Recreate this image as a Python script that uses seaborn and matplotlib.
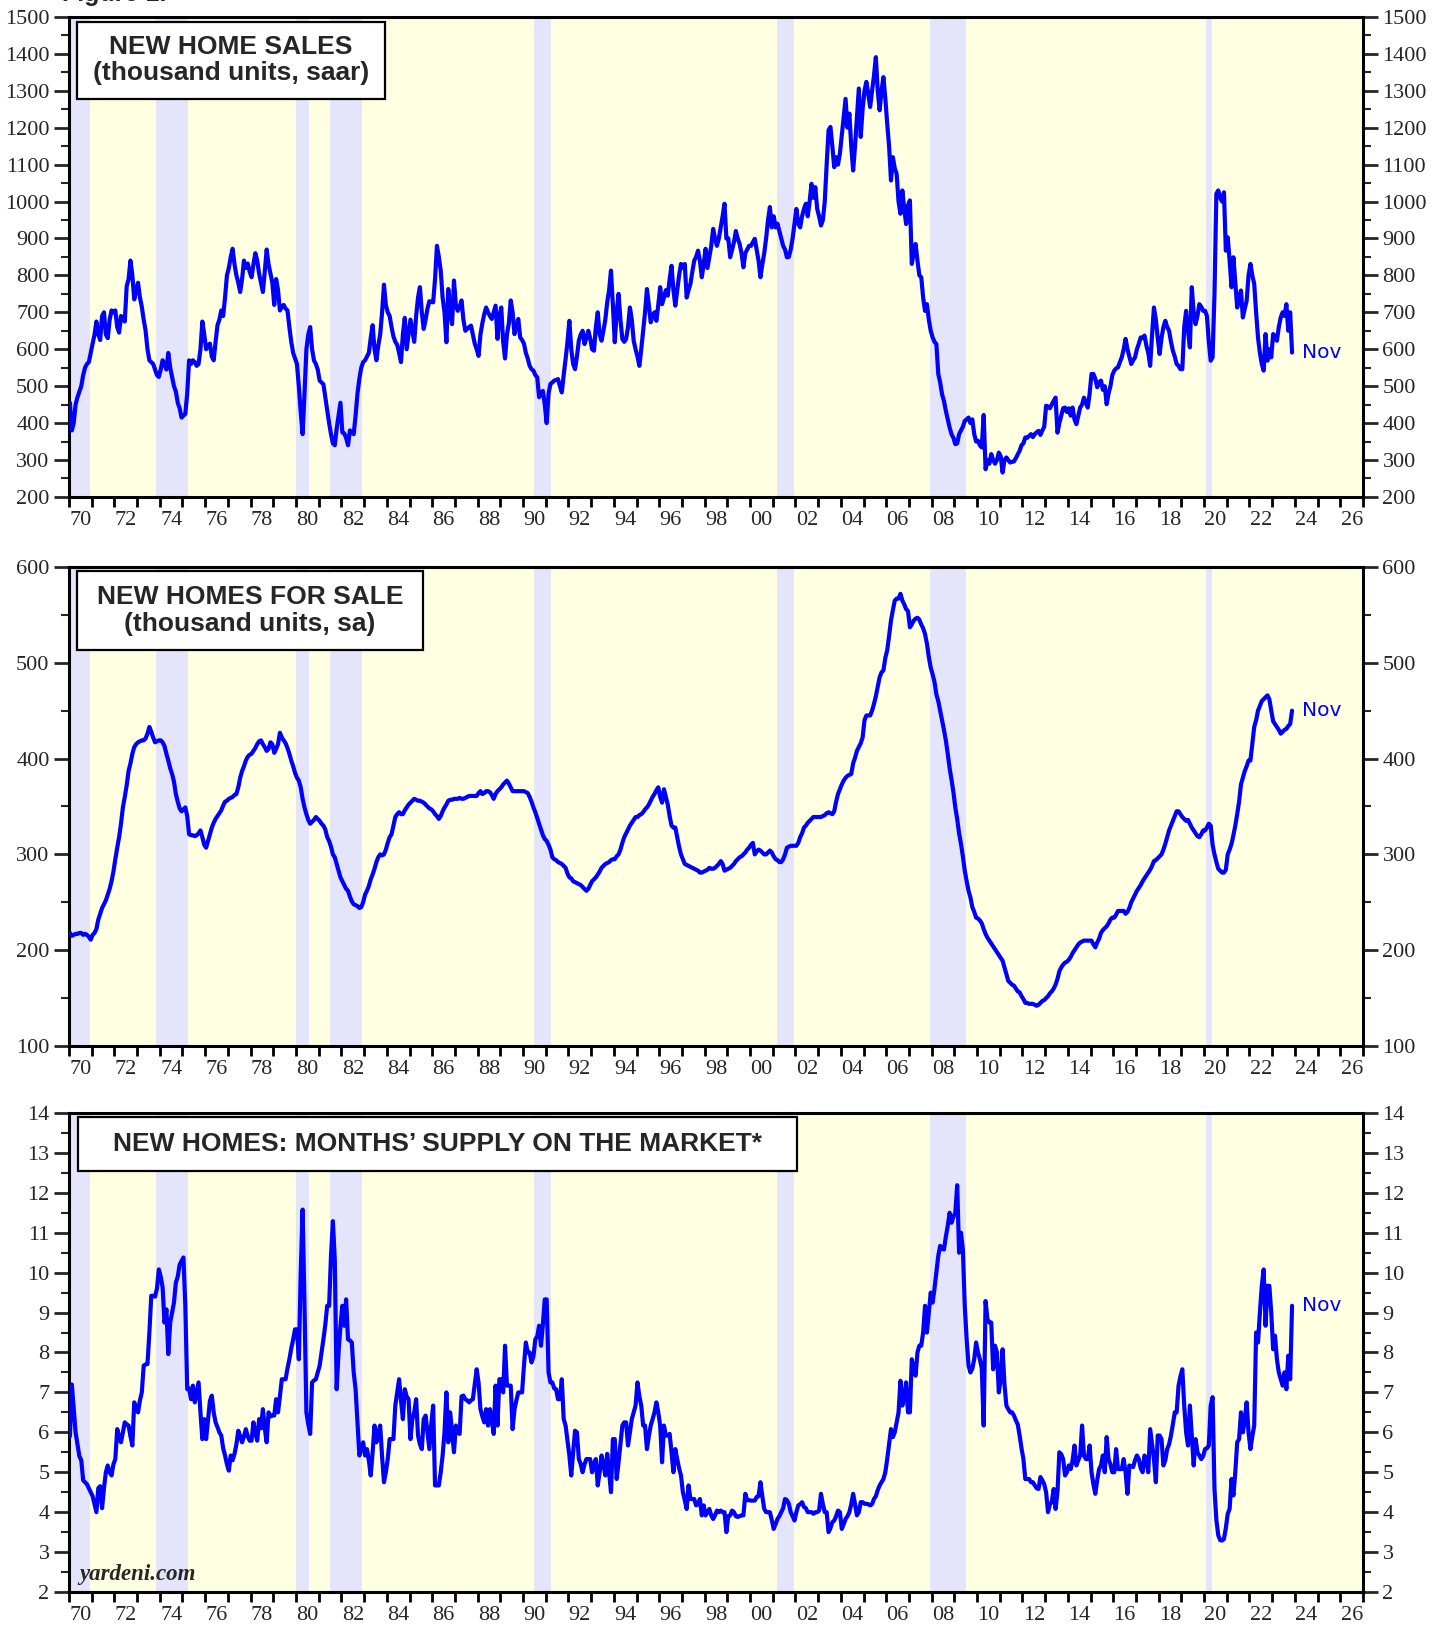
import numpy as np
import seaborn as sns
import matplotlib.pyplot as plt
from matplotlib.patches import Rectangle
from matplotlib.ticker import MultipleLocator, FixedLocator, FixedFormatter, NullFormatter, FormatStrFormatter

sns.set_style('ticks')
plt.rcParams['font.family'] = ['Liberation Serif', 'DejaVu Serif']

# New home sales, thousand units saar (one row per year, Jan..Dec, 1970 - Nov 2023)
home_sales = [
    [455, 380, 400, 450, 470, 485, 500, 530, 550, 560, 565, 590],  # 1970
    [615, 640, 675, 640, 625, 690, 700, 640, 630, 680, 705, 700],
    [705, 660, 645, 690, 680, 675, 770, 790, 840, 800, 735, 760],
    [780, 740, 715, 680, 650, 600, 570, 565, 560, 545, 530, 525],
    [545, 570, 560, 545, 590, 550, 525, 500, 485, 455, 440, 415],
    [420, 425, 480, 570, 560, 570, 565, 555, 560, 600, 675, 640],
    [600, 610, 615, 580, 570, 620, 665, 680, 705, 690, 740, 800],
    [820, 850, 872, 830, 800, 780, 755, 790, 840, 820, 832, 810],
    [795, 830, 860, 840, 805, 780, 755, 810, 870, 830, 805, 780],
    [720, 790, 760, 705, 715, 720, 710, 705, 660, 620, 590, 575],
    [560, 500, 430, 370, 480, 600, 640, 660, 600, 570, 560, 545],  # 1980
    [515, 510, 505, 470, 435, 400, 370, 345, 340, 385, 420, 455],
    [375, 372, 360, 340, 380, 375, 370, 420, 480, 520, 550, 565],
    [570, 580, 590, 630, 665, 600, 570, 610, 640, 700, 775, 720],
    [700, 690, 660, 635, 620, 612, 590, 565, 640, 685, 600, 640],
    [680, 650, 620, 690, 740, 768, 700, 655, 680, 710, 730, 728],
    [727, 790, 880, 850, 813, 740, 700, 619, 763, 700, 668, 786],
    [720, 704, 715, 732, 680, 650, 655, 660, 664, 640, 615, 600],
    [582, 640, 670, 695, 713, 700, 690, 682, 700, 718, 628, 690],
    [713, 620, 575, 640, 670, 732, 700, 641, 660, 682, 632, 625],
    [615, 590, 575, 555, 546, 542, 530, 524, 470, 480, 487, 450],  # 1990
    [400, 480, 506, 510, 515, 517, 519, 500, 483, 530, 573, 620],
    [677, 600, 560, 546, 580, 623, 640, 650, 614, 630, 650, 630],
    [600, 596, 660, 700, 640, 623, 650, 680, 727, 760, 813, 720],
    [619, 700, 750, 680, 628, 620, 628, 660, 713, 680, 623, 600],
    [580, 555, 600, 650, 700, 763, 720, 673, 690, 700, 677, 720],
    [768, 722, 740, 760, 745, 790, 826, 760, 718, 760, 800, 831],
    [820, 831, 740, 760, 777, 810, 840, 850, 867, 840, 795, 830],
    [872, 820, 850, 880, 926, 900, 880, 900, 930, 960, 994, 900],
    [900, 849, 870, 890, 920, 900, 885, 860, 822, 860, 870, 880],
    [880, 890, 899, 870, 840, 795, 830, 860, 900, 950, 985, 930],  # 2000
    [960, 930, 940, 920, 900, 880, 870, 849, 850, 870, 900, 940],
    [980, 940, 930, 960, 980, 994, 960, 1000, 1048, 1010, 1039, 980],
    [960, 935, 950, 1000, 1100, 1193, 1202, 1150, 1093, 1120, 1100, 1130],
    [1180, 1230, 1278, 1200, 1238, 1150, 1084, 1150, 1230, 1306, 1175, 1250],
    [1300, 1324, 1290, 1256, 1300, 1340, 1391, 1300, 1247, 1300, 1337, 1280],
    [1211, 1150, 1057, 1120, 1090, 1075, 1000, 967, 1030, 980, 939, 990],
    [1003, 831, 860, 885, 840, 800, 795, 740, 704, 722, 680, 650],
    [632, 620, 614, 533, 510, 478, 460, 433, 410, 388, 370, 360],
    [343, 345, 370, 380, 390, 406, 410, 415, 400, 410, 370, 350],
    [352, 340, 334, 422, 275, 300, 290, 316, 300, 290, 300, 320],  # 2010
    [310, 266, 300, 307, 300, 293, 295, 296, 305, 315, 325, 340],
    [345, 361, 360, 365, 370, 362, 370, 375, 379, 368, 380, 390],
    [447, 445, 440, 450, 460, 469, 374, 400, 420, 440, 442, 430],
    [440, 420, 442, 410, 397, 420, 442, 450, 469, 455, 442, 480],
    [533, 533, 520, 497, 510, 515, 490, 500, 451, 480, 500, 530],
    [542, 548, 551, 565, 578, 600, 628, 600, 580, 560, 570, 578],
    [600, 615, 632, 630, 637, 610, 590, 555, 640, 713, 680, 630],
    [587, 630, 660, 677, 660, 650, 620, 596, 580, 560, 555, 546],
    [546, 660, 704, 650, 605, 768, 700, 668, 690, 722, 715, 704],
    [704, 690, 620, 569, 578, 750, 1021, 1030, 1010, 1000, 1025, 867],  # 2020
    [903, 840, 768, 849, 780, 713, 740, 759, 686, 710, 731, 800],
    [831, 800, 777, 700, 632, 590, 560, 542, 641, 569, 600, 578],
    [641, 635, 623, 660, 686, 700, 690, 722, 650, 700, 591],
]

# New homes for sale, thousand units sa
homes_for_sale = [
    [218, 215, 216, 217, 217, 218, 218, 216, 217, 216, 214, 211],  # 1970
    [216, 218, 222, 232, 238, 244, 248, 252, 258, 264, 272, 282],
    [295, 307, 318, 332, 349, 360, 372, 387, 395, 405, 412, 415],
    [417, 418, 419, 419, 421, 426, 433, 428, 422, 417, 418, 419],
    [419, 417, 413, 405, 398, 390, 384, 376, 363, 355, 348, 345],
    [347, 349, 340, 321, 320, 320, 319, 320, 322, 325, 318, 310],
    [307, 314, 321, 328, 333, 337, 340, 343, 346, 351, 355, 356],
    [358, 359, 360, 362, 363, 370, 380, 387, 392, 398, 402, 404],
    [405, 408, 411, 415, 418, 419, 415, 412, 408, 410, 417, 415],
    [406, 410, 415, 427, 422, 419, 416, 411, 405, 398, 392, 385],
    [380, 377, 370, 358, 349, 342, 336, 332, 334, 336, 339, 337],  # 1980
    [335, 332, 330, 326, 318, 314, 308, 300, 297, 290, 283, 276],
    [272, 268, 264, 262, 256, 251, 248, 247, 246, 244, 245, 250],
    [258, 262, 267, 274, 279, 285, 292, 297, 300, 299, 300, 305],
    [312, 318, 321, 330, 339, 342, 344, 342, 342, 346, 349, 352],
    [354, 356, 358, 357, 356, 356, 355, 354, 352, 350, 348, 347],
    [345, 342, 340, 337, 340, 345, 349, 352, 356, 357, 357, 358],
    [358, 358, 359, 358, 358, 359, 360, 361, 361, 361, 361, 361],
    [364, 366, 363, 364, 366, 366, 365, 362, 358, 363, 366, 368],
    [370, 373, 375, 377, 374, 370, 366, 366, 366, 366, 366, 366],
    [366, 365, 364, 360, 355, 349, 344, 338, 332, 326, 320, 316],  # 1990
    [314, 310, 305, 297, 295, 294, 292, 291, 290, 288, 286, 280],
    [276, 275, 272, 271, 270, 269, 268, 266, 264, 262, 264, 268],
    [272, 274, 276, 279, 282, 286, 288, 290, 291, 292, 294, 295],
    [295, 298, 300, 305, 312, 318, 322, 326, 330, 333, 336, 339],
    [339, 341, 342, 344, 347, 349, 352, 356, 360, 363, 367, 370],
    [360, 354, 368, 360, 352, 340, 330, 328, 328, 318, 308, 300],
    [295, 290, 289, 288, 287, 286, 285, 284, 283, 281, 281, 282],
    [283, 284, 286, 285, 285, 286, 288, 290, 293, 290, 283, 284],
    [285, 286, 288, 290, 293, 295, 297, 298, 300, 302, 305, 307],
    [310, 312, 300, 303, 305, 304, 302, 300, 300, 302, 304, 302],  # 2000
    [298, 295, 294, 292, 292, 295, 300, 307, 308, 309, 309, 309],
    [309, 312, 318, 322, 328, 330, 333, 335, 337, 339, 339, 339],
    [339, 339, 340, 341, 343, 344, 343, 342, 345, 355, 363, 368],
    [373, 377, 380, 382, 383, 384, 395, 401, 408, 412, 416, 422],
    [440, 445, 445, 445, 450, 457, 465, 475, 485, 490, 492, 505],
    [513, 528, 544, 555, 565, 567, 567, 572, 565, 561, 556, 554],
    [537, 540, 544, 546, 547, 545, 540, 536, 530, 520, 506, 495],
    [488, 480, 467, 460, 450, 440, 430, 419, 405, 390, 378, 365],
    [349, 337, 322, 311, 298, 283, 272, 262, 255, 245, 240, 234],
    [233, 231, 228, 222, 217, 213, 210, 207, 204, 201, 198, 195],  # 2010
    [192, 189, 182, 175, 168, 166, 164, 163, 160, 157, 156, 152],
    [149, 145, 145, 144, 144, 144, 143, 142, 143, 145, 147, 148],
    [150, 152, 155, 157, 160, 164, 170, 178, 182, 185, 187, 188],
    [190, 193, 197, 200, 203, 206, 208, 209, 210, 210, 210, 210],
    [210, 206, 203, 208, 212, 218, 221, 223, 225, 228, 232, 234],
    [234, 237, 241, 241, 241, 241, 238, 240, 244, 250, 254, 258],
    [262, 265, 268, 272, 275, 278, 281, 284, 288, 293, 294, 296],
    [298, 300, 305, 311, 318, 325, 330, 335, 340, 345, 345, 342],
    [339, 337, 335, 336, 332, 328, 325, 322, 319, 318, 321, 325],
    [325, 328, 332, 330, 310, 300, 292, 285, 283, 281, 281, 284],  # 2020
    [300, 305, 311, 320, 330, 342, 355, 373, 380, 387, 392, 398],
    [398, 415, 433, 440, 450, 455, 460, 462, 464, 466, 462, 450],
    [439, 436, 433, 430, 426, 428, 430, 431, 434, 436, 450],
]

# New homes: months' supply on the market
months_supply = [
    [5.9, 7.2, 6.6, 6.0, 5.7, 5.4, 5.3, 4.8, 4.75, 4.7, 4.6, 4.5],  # 1970
    [4.4, 4.2, 4.0, 4.6, 4.65, 4.1, 4.6, 5.0, 5.17, 5.0, 4.92, 5.2],
    [5.33, 6.08, 5.9, 5.75, 6.0, 6.25, 6.2, 6.17, 5.9, 5.67, 6.75, 6.6],
    [6.5, 6.8, 7.0, 7.67, 7.7, 7.71, 8.5, 9.42, 9.42, 9.4, 9.6, 10.08],
    [9.9, 9.63, 8.75, 9.08, 7.96, 8.75, 9.0, 9.25, 9.75, 9.9, 10.2, 10.29],
    [10.38, 9.17, 7.08, 7.1, 6.83, 7.17, 6.75, 7.0, 7.25, 6.5, 5.83, 6.33],
    [5.83, 6.3, 6.79, 6.92, 6.5, 6.25, 6.13, 6.0, 5.92, 5.6, 5.42, 5.2],
    [5.04, 5.42, 5.3, 5.46, 5.7, 6.04, 5.9, 5.75, 5.9, 6.08, 5.9, 5.79],
    [5.79, 6.25, 6.0, 5.79, 6.33, 6.1, 6.58, 6.1, 5.75, 6.5, 6.4, 6.42],
    [6.42, 6.83, 6.5, 6.9, 7.33, 7.33, 7.33, 7.6, 7.83, 8.1, 8.33, 8.58],
    [8.58, 7.83, 10.0, 11.58, 9.17, 6.5, 6.2, 5.96, 7.25, 7.3, 7.33, 7.5],  # 1980
    [7.67, 8.0, 8.33, 8.7, 9.17, 9.17, 10.42, 11.29, 10.33, 7.08, 8.0, 8.67],
    [9.17, 8.67, 9.33, 8.33, 8.3, 8.25, 7.5, 7.08, 6.25, 5.42, 5.6, 5.75],
    [5.42, 5.58, 5.3, 4.92, 5.5, 6.17, 5.75, 6.0, 6.17, 5.4, 4.75, 5.0],
    [5.33, 5.83, 5.83, 5.83, 6.67, 7.0, 7.33, 6.8, 6.33, 7.08, 6.9, 6.83],
    [5.83, 6.33, 6.5, 6.83, 5.92, 5.7, 5.58, 6.33, 6.42, 6.0, 5.58, 6.2],
    [6.67, 4.67, 4.67, 4.67, 5.0, 5.42, 6.0, 7.0, 5.75, 6.5, 6.0, 5.5],
    [6.17, 6.0, 5.96, 6.9, 6.92, 6.83, 6.8, 6.75, 6.8, 6.83, 7.2, 7.58],
    [7.25, 6.58, 6.4, 6.25, 6.58, 6.17, 6.58, 6.3, 5.96, 7.17, 6.17, 7.33],
    [7.33, 7.0, 8.17, 7.17, 7.17, 7.17, 6.08, 6.58, 6.8, 7.0, 7.0, 7.0],
    [7.67, 8.25, 8.0, 8.0, 7.75, 7.9, 8.33, 8.4, 8.67, 8.17, 8.7, 9.33],  # 1990
    [9.33, 7.5, 7.25, 7.25, 7.1, 7.08, 6.83, 6.83, 7.33, 6.33, 6.17, 5.8],
    [5.42, 4.92, 5.5, 6.04, 6.0, 5.33, 5.2, 5.0, 5.2, 5.33, 5.33, 5.33],
    [5.0, 5.2, 5.33, 4.67, 5.0, 5.42, 5.2, 4.92, 5.46, 5.0, 4.5, 5.83],
    [5.83, 4.83, 5.25, 5.7, 6.17, 6.25, 6.25, 5.67, 6.0, 6.33, 6.5, 6.67],
    [7.25, 6.9, 6.67, 6.17, 6.17, 5.58, 5.9, 6.17, 6.33, 6.5, 6.75, 6.5],
    [6.17, 5.25, 6.17, 5.92, 5.92, 5.96, 5.5, 5.0, 5.58, 5.33, 5.1, 4.92],
    [4.5, 4.3, 4.08, 4.67, 4.33, 4.33, 4.33, 4.17, 4.2, 4.33, 3.92, 4.17],
    [3.92, 4.0, 4.08, 3.92, 3.83, 3.92, 4.04, 4.0, 4.04, 4.0, 4.0, 3.5],
    [3.9, 3.92, 4.04, 4.0, 3.9, 3.88, 3.9, 3.92, 3.92, 4.46, 4.3, 4.3],
    [4.29, 4.29, 4.29, 4.38, 4.4, 4.75, 4.4, 4.08, 4.0, 4.0, 4.0, 3.8],  # 2000
    [3.58, 3.7, 3.83, 3.9, 4.0, 4.1, 4.33, 4.3, 4.21, 4.0, 3.9, 3.79],
    [4.0, 4.17, 4.2, 4.25, 4.13, 4.1, 4.0, 4.0, 4.0, 3.96, 4.0, 4.0],
    [4.04, 4.46, 4.2, 4.0, 4.0, 3.5, 3.6, 3.75, 3.79, 3.9, 4.04, 4.0],
    [3.58, 3.7, 3.83, 3.9, 4.0, 4.2, 4.46, 4.2, 3.92, 4.0, 4.25, 4.25],
    [4.21, 4.21, 4.2, 4.17, 4.2, 4.33, 4.4, 4.55, 4.67, 4.75, 4.83, 5.0],
    [5.33, 5.7, 6.08, 5.88, 6.0, 6.25, 6.5, 7.29, 6.67, 6.9, 7.25, 6.5],
    [6.5, 7.83, 7.6, 7.42, 8.0, 8.17, 8.17, 8.5, 9.17, 8.5, 9.0, 9.5],
    [9.25, 9.6, 10.0, 10.42, 10.67, 10.6, 10.58, 10.9, 11.17, 11.5, 11.25, 11.4],
    [11.5, 12.19, 10.5, 11.0, 10.58, 9.17, 8.33, 7.67, 7.5, 7.6, 7.83, 8.25],
    [8.0, 7.83, 7.6, 6.17, 9.29, 8.83, 8.75, 8.75, 7.58, 8.17, 8.0, 7.0],  # 2010
    [7.33, 8.08, 7.2, 6.67, 6.58, 6.5, 6.5, 6.42, 6.3, 6.2, 5.92, 5.6],
    [5.33, 4.83, 4.83, 4.83, 4.75, 4.75, 4.67, 4.6, 4.58, 4.88, 4.8, 4.7],
    [4.5, 4.0, 4.2, 4.25, 4.58, 4.08, 4.5, 5.5, 5.45, 5.33, 4.92, 5.0],
    [5.17, 5.08, 5.3, 5.67, 5.17, 5.3, 5.42, 6.17, 5.42, 5.33, 5.33, 5.67],
    [5.0, 4.7, 4.46, 4.8, 5.08, 5.17, 5.42, 5.0, 5.88, 5.33, 5.2, 5.0],
    [5.0, 5.58, 5.08, 5.08, 5.08, 5.33, 5.0, 4.46, 5.17, 5.15, 5.13, 5.3],
    [5.42, 5.33, 5.1, 5.0, 5.42, 5.3, 5.0, 6.08, 5.7, 5.33, 4.75, 5.92],
    [5.92, 5.83, 5.17, 5.3, 5.58, 5.7, 5.92, 6.2, 6.5, 6.5, 7.17, 7.4],
    [7.58, 6.67, 6.0, 5.67, 6.67, 5.9, 5.17, 5.83, 5.5, 5.42, 5.33, 5.4],
    [5.58, 5.6, 5.67, 6.67, 6.88, 4.58, 3.8, 3.42, 3.3, 3.29, 3.33, 3.6],  # 2020
    [3.96, 4.08, 4.83, 4.42, 5.0, 5.75, 5.83, 6.5, 6.0, 6.3, 6.75, 6.0],
    [5.58, 5.9, 6.17, 8.5, 8.25, 9.0, 9.67, 10.08, 8.67, 9.67, 9.67, 9.0],
    [8.08, 8.42, 7.83, 7.5, 7.33, 7.17, 7.5, 7.08, 7.92, 7.33, 9.17],
]

# NBER recessions (start, end) as decimal years
recessions = [(1969 + 11/12, 1970 + 11/12), (1973 + 10/12, 1975 + 3/12), (1980.0, 1980 + 7/12),
              (1981.5, 1982 + 11/12), (1990.5, 1991 + 3/12), (2001 + 2/12, 2001 + 11/12),
              (2007 + 11/12, 2009.5), (2020 + 1/12, 2020 + 4/12)]

year_labels = ['70', '72', '74', '76', '78', '80', '82', '84', '86', '88', '90', '92', '94', '96',
               '98', '00', '02', '04', '06', '08', '10', '12', '14', '16', '18', '20', '22', '24', '26']
label_pos = [1970.5 + 2 * i for i in range(len(year_labels))]


def flatten(rows):
    return np.concatenate([np.asarray(r, dtype=float) for r in rows])


fig = plt.figure(figsize=(14.46, 16.25), dpi=100)

panels = [
    # rect, data, ylim, major, minor, title, box (x0, y0, x1, y1)
    ([0.0477, 0.6942, 0.8949, 0.2954], home_sales, (200, 1500), 100, 50,
     'NEW HOME SALES\n(thousand units, saar)', (0.0062, 0.830, 0.244, 0.990)),
    ([0.0477, 0.3563, 0.8949, 0.2948], homes_for_sale, (100, 600), 100, 50,
     'NEW HOMES FOR SALE\n(thousand units, sa)', (0.0062, 0.826, 0.2736, 0.992)),
    ([0.0477, 0.0203, 0.8949, 0.2948], months_supply, (2, 14), 1, 0.5,
     'NEW HOMES: MONTHS\u2019 SUPPLY ON THE MARKET*', (0.007, 0.879, 0.5626, 0.992)),
]

for rect, rows, ylim, major, minor, title, box in panels:
    ax = fig.add_axes(rect)
    vals = flatten(rows)
    x = 1970 + (np.arange(len(vals)) + 0.5) / 12

    ax.set_facecolor('#FFFFE1')
    for s, e in recessions:
        ax.axvspan(s, e, color='#E4E4FA', lw=0, zorder=0.5)

    sns.lineplot(x=x, y=vals, ax=ax, color='#0000FF', lw=3.0, estimator=None, zorder=3)

    ax.set_xlim(1970, 2027)
    ax.set_ylim(*ylim)
    ax.set_xlabel('')
    ax.set_ylabel('')

    ax.xaxis.set_major_locator(MultipleLocator(1))
    ax.xaxis.set_major_formatter(NullFormatter())
    ax.xaxis.set_minor_locator(FixedLocator(label_pos))
    ax.xaxis.set_minor_formatter(FixedFormatter(year_labels))
    ax.tick_params(axis='x', which='major', length=7, width=2, direction='out', color='black')
    ax.tick_params(axis='x', which='minor', length=0, pad=10, labelsize=16)

    ax.yaxis.set_major_locator(MultipleLocator(major))
    ax.yaxis.set_minor_locator(MultipleLocator(minor))
    ax.yaxis.set_major_formatter(FormatStrFormatter('%d'))
    ax.tick_params(axis='y', which='major', length=11, width=2, direction='out',
                   left=True, right=True, labelleft=True, labelright=True, labelsize=16, pad=3)
    ax.tick_params(axis='y', which='minor', length=5.5, width=1.5, direction='out',
                   left=True, right=True)

    for sp in ax.spines.values():
        sp.set_linewidth(2.2)
        sp.set_color('black')
        sp.set_visible(True)

    x0, y0, x1, y1 = box
    ax.add_patch(Rectangle((x0, y0), x1 - x0, y1 - y0, transform=ax.transAxes,
                           fc='white', ec='black', lw=1.6, zorder=6))
    ax.text((x0 + x1) / 2, (y0 + y1) / 2, title, transform=ax.transAxes, ha='center', va='center',
            fontsize=19, fontweight='bold', family='Liberation Sans', linespacing=1.12, zorder=7)

    ax.annotate('Nov', xy=(x[-1], vals[-1]), xytext=(7, 0), textcoords='offset points',
                ha='left', va='center', color='#0000FF', fontsize=14.5, family='DejaVu Sans')

    last_ax = ax

last_ax.text(0.008, 0.026, 'yardeni.com', transform=last_ax.transAxes, fontsize=16.5,
             fontweight='bold', style='italic', family='Liberation Serif', zorder=7)

fig.text(0.043, 1.0 - 1 / 1625, 'Figure 1.', fontsize=18, fontweight='bold', family='Liberation Sans',
         va='baseline', ha='left')

fig.savefig('out.png', dpi=100)
